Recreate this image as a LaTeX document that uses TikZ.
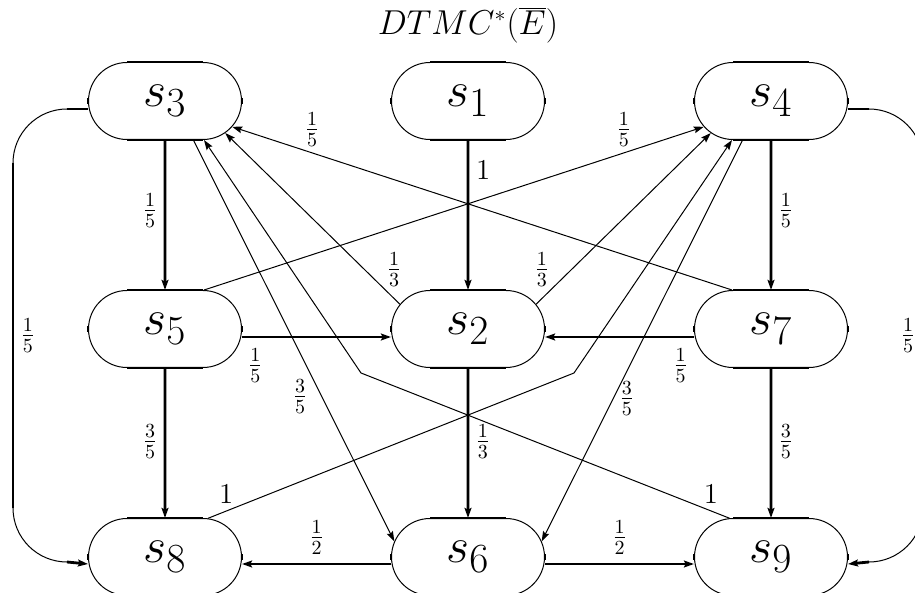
\documentclass[tikz,border=0pt]{standalone}
\usetikzlibrary{arrows.meta,positioning,calc,shapes.misc}

\begin{document}
\begin{tikzpicture}[
  >={Stealth[length=5pt,width=3.4pt,inset=0.8pt]},
  node distance=75pt,
  state/.style={rounded rectangle, draw, line width=0.5pt, minimum width=76.5pt, minimum height=38.5pt, inner sep=0pt,
    font=\fontsize{24.88}{30}\selectfont,
    append after command={
      ([xshift=-19pt]\tikzlastnode.north) edge[flatline] ([xshift=19pt]\tikzlastnode.north)
      ([xshift=-19pt]\tikzlastnode.south) edge[flatline] ([xshift=19pt]\tikzlastnode.south)
      ([yshift=1.5pt]\tikzlastnode.west) edge[flatline] ([yshift=-1.5pt]\tikzlastnode.west)
      ([yshift=1.5pt]\tikzlastnode.east) edge[flatline] ([yshift=-1.5pt]\tikzlastnode.east)
    }},
  flatline/.style={draw, -, line width=1.4pt},
  arrow/.style={->, line width=1.4pt},
  thinarrow/.style={->, line width=0.5pt},
  loopline/.style={line width=0.5pt},
  note/.style={font=\fontsize{14.4}{17}\selectfont, inner sep=3pt},
  notebig/.style={font=\fontsize{14.4}{17}\selectfont}
]

\useasboundingbox (-82.5pt,-246pt) rectangle (375pt,50.5pt);

% ----- STATES -----
\node[state] (s3) at (0,0) {$s_3$};
\node[state, right=74.5pt of s3] (s1) {$s_1$};
\node[state, right=74.5pt of s1] (s4) {$s_4$};
\node[state, below=of s3] (s5) {$s_5$};
\node[state, below=of s1] (s2) {$s_2$};
\node[state, below=of s4] (s7) {$s_7$};
\node[state, below=of s5] (s8) {$s_8$};
\node[state, below=of s2] (s6) {$s_6$};
\node[state, below=of s7] (s9) {$s_9$};

% ----- TITLE -----
\node[font=\fontsize{16}{19}\selectfont, above=6pt of s1] (title) {$DTMC^*(\overline{E})$};

% ----- BENDS OF THE CROSSING PATHS -----
\coordinate (bl) at ($(s2)+(-53.5pt,-22pt)$);
\coordinate (br) at ($(s2)+(53pt,-22pt)$);

% ----- VERTICAL TRANSITIONS -----
\draw[arrow] (s1) -- node[right, notebig, pos=0.2]{$1$} (s2);
\draw[arrow] (s3) -- node[left, note, pos=0.47]{$\frac{1}{5}$} (s5);
\draw[arrow] (s4) -- node[right, note, pos=0.47]{$\frac{1}{5}$} (s7);
\draw[arrow] (s5) -- node[left, note, pos=0.49]{$\frac{3}{5}$} (s8);
\draw[arrow] (s7) -- node[right, note, pos=0.49]{$\frac{3}{5}$} (s9);
\draw[arrow] (s2) -- node[right, note, pos=0.49]{$\frac{1}{3}$} (s6);

% ----- HORIZONTAL TRANSITIONS -----
\draw[arrow] ([yshift=-4pt]s5.east) -- node[below=2pt, note, pos=0.09]{$\frac{1}{5}$} ([yshift=-4pt]s2.west);
\draw[arrow] ([yshift=-4pt]s7.west) -- node[below=2pt, note, pos=0.09]{$\frac{1}{5}$} ([yshift=-4pt]s2.east);
\draw[arrow] ([yshift=-3.5pt]s6.west) -- node[above=1pt, note, pos=0.5]{$\frac{1}{2}$} ([yshift=-3.5pt]s8.east);
\draw[arrow] ([yshift=-3.5pt]s6.east) -- node[above=1pt, note, pos=0.5]{$\frac{1}{2}$} ([yshift=-3.5pt]s9.west);

% ----- DIAGONAL TRANSITIONS -----
\draw[thinarrow] (s2.160) -- node[above right, note, inner sep=1pt, pos=0.09]{$\frac{1}{3}$} (s3.-28);
\draw[thinarrow] (s2.20) -- node[above left, note, inner sep=1pt, pos=0.09]{$\frac{1}{3}$} (s4.208);
\draw[thinarrow] (s5.45) -- node[above=0pt, note, pos=0.84]{$\frac{1}{5}$} (s4.201);
\draw[thinarrow] (s7.135) -- node[above=0pt, note, pos=0.84]{$\frac{1}{5}$} (s3.-21);
\draw[thinarrow] (s3.-54) -- node[left=4pt, note, pos=0.64]{$\frac{3}{5}$} (s6.168);
\draw[thinarrow] (s4.234) -- node[right, note, pos=0.645]{$\frac{3}{5}$} (s6.12);
\draw[thinarrow] (s8.42) -- node[above, notebig, pos=0.05]{$1$} (br) -- (s4.225);
\draw[thinarrow] (s9.137) -- node[above, notebig, pos=0.05]{$1$} (bl) -- (s3.-45);

% ----- OUTER LOOPS -----
\draw[loopline] ([yshift=-4pt]s3.west) -- ++(-10.5pt,0) coordinate (l1) arc[start angle=90, end angle=180, radius=27pt] coordinate (l2)
  -- ++(0,-172.5pt) coordinate (l3) arc[start angle=180, end angle=270, radius=27pt] coordinate (l4);
\draw[arrow, -] ([yshift=-4pt]s3.west) -- (l1);
\draw[arrow, -] (l2) -- node[right, note]{$\frac{1}{5}$} (l3);
\draw[arrow] (l4) -- ([yshift=-3.5pt]s8.west);

\draw[loopline] ([yshift=-4pt]s4.east) -- ++(10.5pt,0) coordinate (r1) arc[start angle=90, end angle=0, radius=27pt] coordinate (r2)
  -- ++(0,-172.5pt) coordinate (r3) arc[start angle=0, end angle=-90, radius=27pt] coordinate (r4);
\draw[arrow, -] ([yshift=-4pt]s4.east) -- (r1);
\draw[arrow, -] (r2) -- node[left, note]{$\frac{1}{5}$} (r3);
\draw[arrow] (r4) -- ([yshift=-3.5pt]s9.east);

\end{tikzpicture}
\end{document}
